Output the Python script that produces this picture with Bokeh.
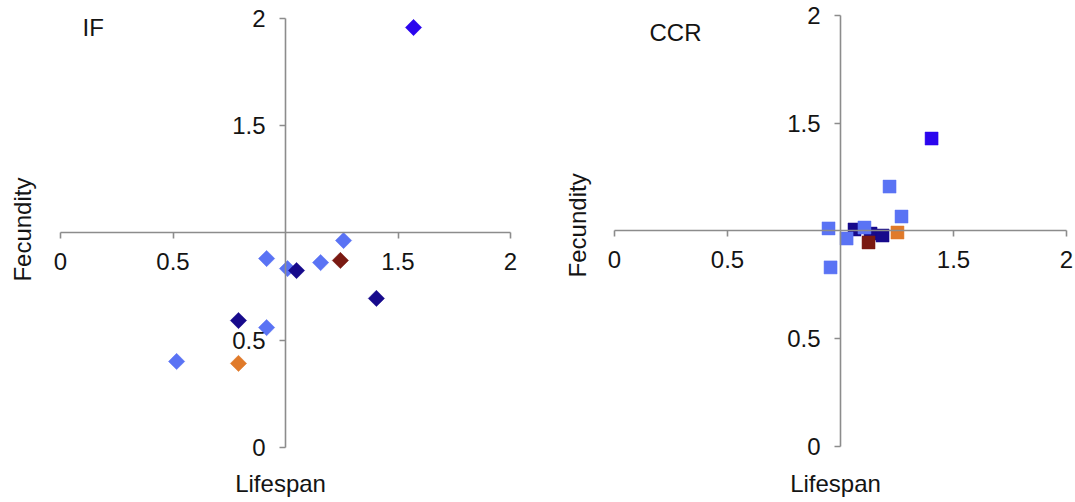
import numpy as np
from bokeh.plotting import figure
from bokeh.layouts import row
from bokeh.models import Range1d, FixedTicker, Label, ColumnDataSource
from bokeh.embed import file_html
from bokeh.resources import INLINE

# ---- data ----
tick_values = [0, 0.5, 1.5, 2]
group_colors = {
    "light_blue": "#5a73f4",
    "navy": "#170a8c",
    "dark_red": "#7a1a12",
    "orange": "#e07a2a",
    "bright_blue": "#2b05ee",
}

if_group = ["light_blue", "light_blue", "light_blue", "light_blue", "light_blue", "light_blue",
            "navy", "navy", "navy", "dark_red", "orange", "bright_blue"]
if_lifespan = [1.258, 0.916, 1.009, 1.156, 0.916, 0.516,
               1.049, 1.404, 0.791, 1.244, 0.791, 1.569]
if_fecundity = [0.965, 0.881, 0.834, 0.862, 0.559, 0.401,
                0.825, 0.695, 0.592, 0.872, 0.392, 1.958]

ccr_group = ["navy", "navy", "navy",
             "light_blue", "light_blue", "light_blue", "light_blue", "light_blue", "light_blue",
             "dark_red", "orange", "bright_blue"]
ccr_lifespan = [1.062, 1.133, 1.186,
                1.217, 1.270, 0.947, 0.956, 1.027, 1.106,
                1.124, 1.252, 1.403]
ccr_fecundity = [1.007, 0.988, 0.979,
                 1.206, 1.067, 1.012, 0.831, 0.965, 1.016,
                 0.947, 0.993, 1.429]

FONT = "Liberation Sans"
FS = "24px"
AXIS_COLOR = "#8c8c8c"
TEXT_COLOR = "#141414"


def make_panel(name, xs, ys, groups, marker, size, angle, width, xr, yr,
               name_pos, fec_pos, life_pos):
    p = figure(width=width, height=502, x_range=Range1d(*xr), y_range=Range1d(*yr),
               output_backend="svg", toolbar_location=None, title=None,
               min_border_left=0, min_border_right=0,
               min_border_top=0, min_border_bottom=0)
    p.outline_line_color = None
    p.grid.visible = False
    p.background_fill_color = "white"
    p.border_fill_color = "white"

    src = ColumnDataSource(dict(x=xs, y=ys, c=[group_colors[g] for g in groups]))
    p.scatter("x", "y", source=src, marker=marker, size=size, angle=angle,
              fill_color="c", line_color="c", line_width=0.5)

    for ax in (p.xaxis[0], p.yaxis[0]):
        ax.fixed_location = 1
        ax.bounds = (0, 2)
        ax.ticker = FixedTicker(ticks=tick_values)
        ax.axis_line_color = AXIS_COLOR
        ax.axis_line_width = 1.6
        ax.major_tick_line_color = AXIS_COLOR
        ax.major_tick_line_width = 1.6
        ax.major_tick_in = 0
        ax.major_tick_out = 6
        ax.minor_tick_in = 0
        ax.minor_tick_out = 0
        ax.major_label_text_font = FONT
        ax.major_label_text_font_size = FS
        ax.major_label_text_color = TEXT_COLOR
        ax.major_label_standoff = 14

    p.add_layout(Label(x=name_pos[0], y=name_pos[1], text=name, text_font=FONT,
                       text_font_size=FS, text_color=TEXT_COLOR,
                       text_align="left", text_baseline="middle"))
    p.add_layout(Label(x=fec_pos[0], y=fec_pos[1], text="Fecundity", text_font=FONT,
                       text_font_size=FS, text_color=TEXT_COLOR, angle=np.pi / 2,
                       text_align="center", text_baseline="middle"))
    p.add_layout(Label(x=life_pos[0], y=life_pos[1], text="Lifespan", text_font=FONT,
                       text_font_size=FS, text_color=TEXT_COLOR,
                       text_align="center", text_baseline="middle"))
    return p


p1 = make_panel("IF", if_lifespan, if_fecundity, if_group, "square", 11.5, np.pi / 4,
                537, (-0.2667, 2.12), (-0.2564, 2.0839),
                (0.098, 1.958), (-0.169, 1.016), (0.978, -0.168))
p2 = make_panel("CCR", ccr_lifespan, ccr_fecundity, ccr_group, "square", 13, 0,
                538, (-0.3407, 2.0398), (-0.2599, 2.0696),
                (0.155, 1.919), (-0.164, 1.026), (0.978, -0.172))

layout = row(p1, p2)
open("out.html", "w").write(file_html(layout, INLINE))
